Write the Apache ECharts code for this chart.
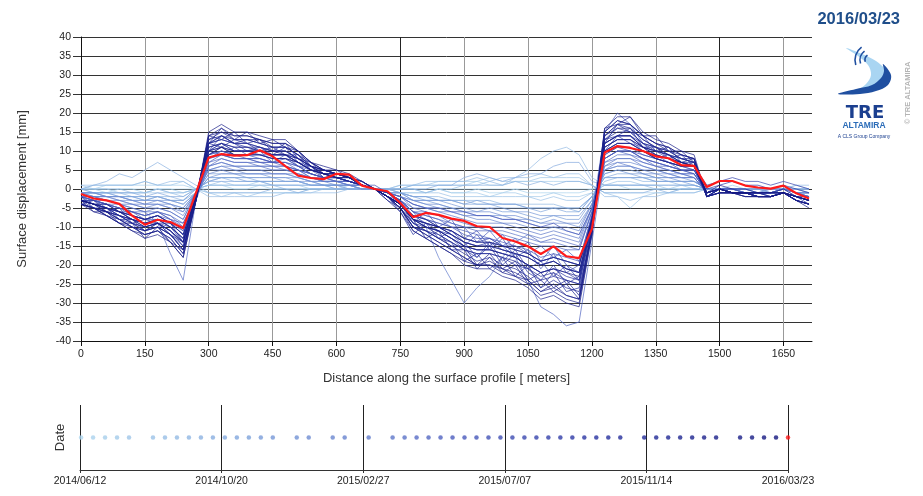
<!DOCTYPE html>
<html>
<head>
<meta charset="utf-8">
<title>Surface displacement profile</title>
<script src="https://cdn.jsdelivr.net/npm/echarts@6/dist/echarts.min.js"></script>
<style>
  html, body { margin: 0; padding: 0; background: #fff; }
  #chart { width: 923px; height: 496px; }
</style>
</head>
<body>
<div id="chart"></div>
<script>
// distance along the profile [m]
var distance = [0,30,60,90,120,150,180,210,240,270, 300,330,360,390,420,450,480,510,540,570,
  600,630,660,690,720,750,780,810,840,870, 900,930,960,990,1020,1050,1080,1110,1140,1170,
  1200,1230,1260,1290,1320,1350,1380,1410,1440, 1470,1500,1530,1560,1590,1620,1650,1680,1710];

// acquisition dates (one profile each)
var dates = ['2014/06/13','2014/06/24','2014/07/05','2014/07/16','2014/07/27','2014/08/18','2014/08/29',
  '2014/09/09','2014/09/20','2014/10/01','2014/10/12','2014/10/23','2014/11/03','2014/11/14','2014/11/25',
  '2014/12/06','2014/12/28','2015/01/08','2015/01/30','2015/02/10','2015/03/04','2015/03/26','2015/04/06',
  '2015/04/17','2015/04/28','2015/05/09','2015/05/20','2015/05/31','2015/06/11','2015/06/22','2015/07/03',
  '2015/07/14','2015/07/25','2015/08/05','2015/08/16','2015/08/27','2015/09/07','2015/09/18','2015/09/29',
  '2015/10/10','2015/10/21','2015/11/12','2015/11/23','2015/12/04','2015/12/15','2015/12/26','2016/01/06',
  '2016/01/17','2016/02/08','2016/02/19','2016/03/01','2016/03/12','2016/03/23'];

// displacement [mm] per date, same order as dates
var p00 = [0,0,0,0,0,0,0,0,0,0, 0,0,0,0,0,0,0,0,0,0, 0,0,0,0,0,0,0,0,0,0, 0,0,0,0,0,0,0,0,0,0, 0,0,0,0,0,0,0,0,0, 0,0,0,0,0,0,0,0,0];
var p01 = [0,0,-1,0,0,-1,0,0,-1,0, 1,1,0,0,1,0,0,0,0,0, 0,0,0,0,0,0,0,-1,0,-1, -1,0,-1,-1,0,-1,-1,-1,-1,-1, 0,1,1,0,0,0,0,0,0, 0,0,0,0,0,0,0,0,0];
var p02 = [0,0,1,1,1,1,1,1,1,0, -1,-1,-1,-1,-1,-1,-1,-1,0,0, 0,0,0,0,0,0,1,1,1,1, 1,2,1,1,2,2,2,2,2,2, 1,-1,-1,-1,-1,-1,-1,0,0, 0,0,0,0,0,0,0,0,0];
var p03 = [1,0,0,-1,-1,-1,0,-1,-1,0, 1,1,1,1,2,1,1,1,0,0, 0,1,0,0,0,-1,-1,-1,0,-1, -1,-1,-2,-1,-1,-2,-2,-1,-2,-2, -1,1,1,1,1,1,0,1,0, 0,0,1,0,0,0,0,0,-1];
var p04 = [0,1,1,1,1,2,1,1,2,0, -1,-2,-1,-2,-1,-1,-1,-1,-1,0, 0,0,0,0,0,1,1,1,2,2, 2,2,3,2,2,2,3,3,3,3, 1,-1,-2,-5,-2,-1,-1,-1,-1, 0,0,0,0,0,0,0,1,0];
var p05 = [0,-1,-1,-1,-1,-1,-1,-1,-2,0, 1,2,1,1,1,1,1,1,1,1, 0,0,0,0,0,-1,-1,-1,-1,-2, -2,-2,-2,-2,-2,-2,-3,-2,-3,-3, -1,1,2,2,1,1,1,1,1, 0,0,0,0,0,-1,0,0,-1];
var p06 = [1,1,1,1,1,2,1,2,2,0, -2,-2,-2,-2,-2,-2,-1,-1,-1,-1, -1,0,0,0,0,1,1,2,2,2, 2,3,2,3,3,3,4,3,4,4, 1,-2,-2,-3,-2,-2,-1,-1,-1, 0,0,0,0,0,0,0,1,1];
var p07 = [0,0,0,0,-1,-1,0,-1,-1,0, 1,1,1,1,1,1,0,0,0,0, 0,0,0,0,0,0,0,-1,0,0, 1,1,2,1,3,5,8,10,11,9, 3,1,1,1,1,0,0,0,0, 0,0,0,0,0,0,0,0,0];
var p08 = [-1,-1,-1,-1,-2,-2,-2,-2,-3,0, 2,3,2,2,2,2,2,2,1,1, 1,0,0,0,0,-1,-2,-2,-2,-3, -3,-3,-3,-4,-4,-4,-4,-4,-5,-5, -2,2,3,3,2,2,2,1,1, 0,0,0,0,0,0,0,-1,-1];
var p09 = [0,1,2,4,3,5,7,5,3,1, -1,-1,-1,-1,-1,0,0,-1,0,0, 0,0,0,0,0,0,1,1,1,1, 1,1,1,1,2,1,2,1,2,2, 1,-1,-1,-1,-1,0,-1,0,0, 0,0,0,0,0,0,0,0,0];
var p10 = [-1,-1,-1,-2,-2,-3,-2,-3,-3,-1, 3,3,3,3,2,2,2,2,1,1, 1,1,0,0,0,-1,-2,-2,-3,-3, -3,-4,-4,-4,-4,-5,-5,-5,-5,-6, -2,3,3,3,3,2,2,2,2, 0,0,0,0,0,0,0,0,-1];
var p11 = [0,-1,-1,-1,-1,-2,-1,-2,-2,0, 2,2,2,2,2,1,1,1,1,1, 0,0,0,0,0,0,0,0,1,1, 3,4,3,2,3,4,4,6,7,7, 2,1,1,1,1,1,1,1,1, 0,0,0,0,0,0,0,0,0];
var p12 = [-1,-1,-1,-2,-2,-3,-2,-3,-4,-1, 3,3,3,3,3,3,2,2,1,1, 1,1,0,0,-1,-1,-2,-3,-3,-3, -4,-4,-4,-5,-5,-5,-6,-5,-6,-6, -2,3,4,4,3,3,2,2,2, 0,0,0,0,0,-1,0,-1,-1];
var p13 = [-1,-1,-2,-2,-2,-2,-2,-3,-3,0, 2,3,3,2,2,2,2,2,1,1, 1,0,0,0,-1,-1,-2,-2,-3,-3, -4,-3,-4,-4,-4,-5,-5,-5,-5,-5, -2,3,3,3,3,2,2,2,1, 0,0,0,0,-1,0,0,-1,-1];
var p14 = [-1,-2,-2,-2,-3,-3,-3,-4,-5,-1, 4,4,4,4,4,3,3,3,2,1, 1,1,0,0,-1,-1,-3,-3,-4,-5, -5,-6,-5,-6,-6,-7,-8,-7,-8,-8, -3,4,5,5,4,3,3,3,2, 0,0,0,0,0,-1,0,-1,-1];
var p15 = [-1,-1,-2,-2,-3,-3,-3,-3,-4,-1, 3,4,4,3,3,3,3,2,2,1, 1,1,0,0,-1,-1,-3,-3,-3,-4, -5,-5,-5,-5,-6,-6,-7,-7,-7,-7, -3,4,5,4,4,3,3,2,2, 0,0,0,0,-1,0,0,-1,-1];
var p16 = [-1,-2,-2,-3,-3,-4,-4,-4,-6,-1, 5,5,5,4,4,4,4,3,2,2, 2,1,1,0,-1,-2,-3,-4,-5,-5, -6,-7,-7,-7,-8,-8,-9,-9,-9,-10, -4,5,6,6,5,4,4,3,3, -1,0,0,-1,-1,-1,0,-1,-1];
var p17 = [-1,-1,-2,-2,-3,-4,-3,-4,-5,-1, 4,5,4,4,4,4,4,3,2,2, 1,1,0,0,-1,-2,-3,-4,-4,-5, -6,-6,-6,-7,-7,-8,-9,-8,-9,-9, -4,5,6,6,4,4,3,3,3, -1,0,0,0,-1,-1,0,-1,-1];
var p18 = [-2,-2,-3,-3,-4,-5,-4,-5,-7,-1, 5,6,6,5,5,5,5,4,3,2, 2,1,1,0,-1,-2,-4,-5,-6,-6, -7,-8,-8,-9,-9,-10,-11,-10,-11,-12, -5,6,7,7,6,5,4,4,3, -1,0,0,-1,-1,-1,0,-1,-2];
var p19 = [-1,-2,-2,-3,-4,-4,-4,-5,-6,-1, 5,6,5,5,5,4,4,4,3,2, 2,1,1,0,-1,-2,-4,-5,-5,-6, -7,-7,-7,-8,-8,-9,-10,-10,-10,-11, -4,5,7,6,5,5,4,3,3, -1,0,0,-1,-1,-1,0,-1,-2];
var p20 = [-2,-2,-3,-4,-5,-6,-5,-6,-8,-1, 6,7,6,6,6,6,5,5,3,2, 2,2,1,0,-1,-3,-6,-10,-18,-24, -30,-26,-23,-18,-14,-12,-13,-12,-13,-14, -5,7,8,8,7,6,5,4,4, -1,0,0,-1,-1,-1,0,-1,-2];
var p21 = [-2,-2,-3,-4,-4,-5,-5,-6,-8,-1, 6,7,6,6,6,5,5,4,3,2, 2,1,1,0,-1,-2,-5,-5,-6,-7, -8,-9,-9,-9,-10,-11,-12,-11,-12,-13, -5,6,8,8,6,5,5,4,3, -1,0,0,-1,-1,-1,0,-1,-2];
var p22 = [-2,-3,-4,-4,-6,-6,-6,-7,-9,-2, 7,8,7,7,7,6,6,5,4,3, 2,2,1,0,-1,-3,-6,-6,-7,-9, -10,-10,-11,-11,-12,-13,-14,-14,-15,-16, -6,8,10,9,8,6,6,5,4, -1,0,0,-1,-1,-1,0,-2,-2];
var p23 = [-2,-3,-3,-4,-5,-6,-9,-17,-24,-3, 6,8,7,7,6,6,6,5,3,3, 2,2,1,0,-1,-3,-5,-6,-7,-8, -9,-10,-10,-10,-11,-12,-14,-13,-14,-15, -6,7,9,9,7,6,5,4,4, -1,0,-1,-1,-1,-1,0,-1,-2];
var p24 = [-2,-3,-4,-5,-6,-7,-6,-7,-10,-2, 8,9,8,8,7,7,7,5,4,3, 2,2,1,0,-1,-3,-6,-7,-8,-9, -10,-11,-11,-12,-13,-14,-15,-15,-16,-16, -6,8,10,10,8,7,6,5,5, -1,0,-1,-1,-1,-1,-1,-2,-2];
var p25 = [-2,-3,-4,-5,-6,-7,-6,-8,-10,-2, 8,9,8,8,8,7,7,6,4,3, 3,2,1,0,-1,-3,-6,-7,-8,-10, -11,-12,-13,-15,-18,-24,-31,-33,-36,-35, -14,8,10,10,8,7,6,5,5, -1,0,-1,-1,-1,-1,-1,-2,-3];
var p26 = [-3,-3,-4,-5,-7,-8,-7,-8,-11,-2, 9,10,9,9,8,7,7,6,4,3, 3,2,1,0,-1,-3,-6,-8,-9,-10, -10,-14,-11,-15,-13,-17,-15,-18,-16,-19, -7,9,11,11,9,8,7,6,5, -1,0,-1,-1,-1,-1,-1,-2,-3];
var p27 = [-2,-3,-4,-5,-6,-7,-6,-8,-9,-2, 7,9,8,8,7,7,6,5,4,3, 3,2,1,0,-1,-2,-4,-5,-5,-6, -6,-7,-7,-8,-8,-9,-10,-9,-11,-12, -5,8,10,10,8,7,6,5,4, -1,0,-1,-1,-1,-1,-1,-2,-2];
var p28 = [-3,-3,-4,-6,-7,-8,-7,-9,-12,-2, 9,10,9,9,9,8,8,6,5,3, 3,2,1,0,-2,-3,-7,-8,-9,-10, -12,-13,-13,-14,-15,-16,-18,-17,-18,-19, -7,15,20,17,12,9,7,6,5, -1,0,-1,-1,-1,-1,-1,-2,-3];
var p29 = [-3,-4,-5,-6,-7,-8,-8,-9,-12,-2, 10,9,11,9,10,7,9,6,6,3, 3,2,1,0,-2,-4,-7,-8,-10,-11, -13,-14,-14,-15,-16,-17,-19,-18,-19,-20, -8,10,12,12,10,8,7,6,6, -1,0,-1,-1,-1,-1,-1,-2,-3];
var p30 = [-2,-4,-4,-6,-6,-8,-7,-9,-11,-2, 8,10,9,8,8,7,8,6,4,3, 3,2,1,1,-1,-3,-9,-6,-10,-8, -13,-11,-15,-12,-16,-14,-19,-15,-20,-22, -7,9,11,10,9,8,7,5,5, -1,0,0,-1,-1,-2,-1,-2,-3];
var p31 = [-3,-4,-5,-6,-8,-9,-8,-10,-13,-2, 10,11,10,10,9,9,9,7,5,4, 3,2,1,0,-2,-4,-8,-9,-10,-12, -15,-12,-16,-13,-18,-16,-21,-17,-22,-20, -8,11,13,13,10,9,8,7,6, -1,0,-1,-1,-1,-2,-1,-2,-3];
var p32 = [-3,-4,-5,-6,-8,-9,-8,-10,-13,-2, 10,12,10,10,10,9,9,7,5,4, 3,3,1,0,-2,-4,-8,-9,-11,-12, -14,-15,-15,-16,-17,-18,-20,-19,-21,-22, -9,10,14,12,11,8,9,6,7, -1,0,-1,-1,-1,-1,-1,-2,-3];
var p33 = [-3,-3,-5,-6,-7,-8,-7,-9,-12,-2, 9,11,9,9,9,8,8,7,5,4, 3,2,1,0,-2,-4,-7,-9,-10,-11, -13,-14,-13,-15,-15,-17,-19,-18,-19,-20, -8,10,12,12,10,8,7,6,6, 1,2,3,2,2,1,2,1,0];
var p34 = [-3,-4,-5,-7,-8,-9,-9,-10,-14,-2, 11,12,11,11,10,9,9,8,5,4, 3,3,1,0,-2,-4,-8,-10,-11,-13, -16,-18,-14,-19,-16,-21,-19,-23,-20,-24, -9,12,14,14,11,10,8,7,6, -2,0,-1,-1,-2,-2,-1,-2,-3];
var p35 = [-3,-4,-5,-7,-8,-10,-9,-11,-14,-2, 10,14,12,10,11,9,11,7,6,3, 4,3,1,0,-2,-4,-8,-10,-11,-13, -15,-16,-16,-17,-18,-20,-22,-21,-22,-24, -9,12,14,14,11,10,9,7,6, -2,0,-1,-1,-2,-2,-1,-2,-3];
var p36 = [-4,-3,-6,-5,-9,-8,-9,-9,-14,-3, 10,12,10,10,10,9,9,7,5,4, 3,2,1,0,-2,-4,-8,-9,-10,-12, -14,-15,-14,-16,-17,-18,-20,-19,-21,-22, -8,11,13,13,11,9,8,7,6, 0,1,2,1,1,0,1,0,-1];
var p37 = [-3,-4,-6,-7,-9,-10,-9,-11,-15,-2, 12,13,12,11,11,10,10,8,6,4, 4,3,1,0,-2,-6,-12,-9,-13,-11, -14,-18,-15,-20,-17,-22,-24,-20,-25,-23, -9,13,14,16,11,11,8,9,6, -2,0,-1,-1,-2,-2,-1,-2,-4];
var p38 = [-3,-4,-5,-7,-9,-10,-9,-11,-14,-3, 12,11,13,12,10,11,9,9,5,5, 4,3,1,0,-2,-4,-8,-10,-11,-13, -15,-16,-16,-17,-18,-20,-22,-21,-23,-24, -9,12,14,14,12,10,9,7,7, -2,-1,-1,-1,-2,-2,-1,-2,-3];
var p39 = [-3,-5,-6,-7,-9,-11,-9,-12,-15,-3, 12,14,12,12,11,10,10,8,6,5, 4,3,1,0,-2,-5,-9,-11,-12,-14, -16,-17,-17,-18,-20,-21,-24,-23,-24,-25, -10,13,16,15,12,11,9,8,7, -2,0,-1,-1,-2,-2,-1,-3,-4];
var p40 = [-4,-5,-6,-8,-9,-11,-10,-12,-16,-3, 12,14,12,13,12,11,11,9,6,5, 4,3,1,0,-2,-5,-9,-11,-13,-14, -19,-17,-21,-18,-23,-20,-26,-22,-27,-26, -12,12,17,15,14,10,11,7,8, -2,0,-1,-1,-2,-2,-1,-3,-4];
var p41 = [-4,-5,-6,-8,-10,-11,-10,-12,-16,-3, 14,13,15,12,13,10,12,8,7,4, 4,3,1,0,-2,-5,-10,-11,-13,-15, -17,-19,-18,-20,-21,-23,-26,-24,-26,-27, -11,14,17,16,13,11,10,8,8, -2,0,-1,-1,-2,-2,-1,-3,-4];
var p42 = [-2,-5,-5,-8,-8,-11,-9,-12,-14,-2, 12,13,12,12,11,10,10,8,6,4, 4,3,2,0,-2,-4,-9,-10,-12,-14, -16,-17,-17,-18,-19,-21,-23,-22,-24,-25, -10,13,15,15,12,11,9,8,7, -2,-1,-1,-2,-2,-2,-1,-3,-4];
var p43 = [-4,-5,-7,-8,-10,-12,-11,-13,-17,-3, 13,15,13,13,13,11,11,9,7,5, 4,3,2,0,-1,-4,-8,-13,-11,-16, -16,-21,-18,-22,-20,-25,-24,-27,-25,-29, -11,14,17,17,14,12,10,9,8, -2,-1,-1,-1,-2,-2,-1,-3,-4];
var p44 = [-4,-5,-7,-9,-10,-12,-11,-13,-17,-3, 12,16,13,15,12,13,11,10,6,5, 4,3,2,0,-2,-5,-10,-12,-14,-16, -18,-20,-20,-21,-23,-24,-27,-26,-28,-29, -11,15,18,17,14,12,11,9,8, -2,0,-1,-1,-2,-2,-1,-3,-4];
var p45 = [-4,-5,-6,-8,-10,-11,-10,-12,-16,-2, 13,14,13,13,12,11,11,9,6,5, 4,3,1,0,-2,-5,-10,-11,-13,-15, -15,-20,-17,-21,-19,-24,-22,-26,-24,-28, -10,14,16,16,13,11,10,8,7, -1,1,0,0,-1,-1,0,-2,-3];
var p46 = [-4,-5,-7,-9,-11,-12,-11,-14,-18,-3, 14,16,14,14,13,12,12,10,7,5, 5,3,2,0,-2,-5,-11,-13,-15,-17, -19,-20,-20,-22,-23,-25,-28,-27,-29,-30, -12,16,17,19,14,14,10,10,7, -2,-1,-1,-2,-2,-2,-1,-3,-4];
var p47 = [-4,-6,-7,-9,-11,-13,-12,-14,-18,-3, 15,17,15,15,14,13,13,10,7,6, 5,4,2,0,-3,-6,-11,-13,-15,-17, -20,-21,-21,-23,-24,-26,-29,-28,-30,-31, -12,16,19,19,15,13,12,10,9, -2,-1,-1,-2,-2,-2,-1,-3,-5];
var p48 = [-3,-6,-6,-9,-9,-13,-10,-14,-16,-3, 14,15,14,14,13,12,12,10,7,5, 4,3,1,0,-3,-5,-10,-12,-14,-16, -18,-20,-19,-21,-22,-24,-27,-25,-28,-29, -11,15,18,17,14,12,11,9,8, -2,-1,-1,-1,-2,-2,-1,-3,-4];
var p49 = [-3,-4,-6,-7,-8,-10,-9,-11,-14,-2, 11,12,11,11,10,10,9,8,6,4, 4,3,1,0,-2,-4,-8,-10,-11,-13, -15,-16,-16,-17,-18,-20,-22,-21,-22,-23, -9,12,14,14,11,10,9,7,6, -1,0,-1,-1,-1,-2,-1,-2,-3];
var p50 = [-3,-4,-5,-6,-8,-9,-8,-10,-13,-2, 10,11,10,10,10,9,9,7,5,4, 3,3,1,0,-2,-4,-8,-9,-10,-12, -14,-15,-15,-16,-17,-18,-20,-19,-21,-22, -8,11,13,13,11,9,8,7,6, -1,0,-1,-1,-1,-1,-1,-2,-3];
var p51 = [-3,-4,-4,-6,-7,-8,-7,-9,-12,-2, 9,11,9,9,9,8,8,7,5,4, 3,2,1,0,-2,-4,-7,-8,-10,-11, -13,-14,-14,-15,-16,-17,-19,-18,-19,-20, -8,10,12,12,10,8,7,6,6, -1,0,-1,-1,-1,-1,-1,-2,-3];
// last date (drawn in red)
var p52 = [-1.3,-2.5,-3.0,-3.9,-7.0,-9.4,-8.1,-8.7,-10.3,-1.0, 8.3,9.2,8.8,8.9,10.2,8.6,6.0,3.5,2.9,2.6,
  4.0,3.8,0.9,0.0,-0.6,-3.7,-7.4,-6.3,-6.8,-7.8, -8.4,-9.8,-10.0,-12.9,-13.8,-15.1,-17.1,-15.1,-17.7,-18.2,
  -10.5,9.6,11.3,10.8,10.0,8.6,8.1,6.3,6.1, 0.5,2.1,2.1,0.9,0.4,0.1,0.9,-1.1,-2.5];

var profiles = [p00,p01,p02,p03,p04,p05,p06,p07,p08,p09,p10,p11,p12,p13,p14,p15,p16,p17,p18,p19,
  p20,p21,p22,p23,p24,p25,p26,p27,p28,p29,p30,p31,p32,p33,p34,p35,p36,p37,p38,p39,
  p40,p41,p42,p43,p44,p45,p46,p47,p48,p49,p50,p51,p52];

// tick labels
var distanceTicks = [0,150,300,450,600,750,900,1050,1200,1350,1500,1650];
var timeTicks = ['2014/06/12','2014/10/20','2015/02/27','2015/07/07','2015/11/14','2016/03/23'];

var FONT = 'Liberation Sans, Arial, sans-serif';

function dayNum(s) {
  var a = s.split('/');
  return Date.UTC(+a[0], +a[1] - 1, +a[2]) / 86400000;
}
var day0 = dayNum(timeTicks[0]);
var timeStep = dayNum(timeTicks[1]) - day0;
var timeMax = dayNum(timeTicks[timeTicks.length - 1]) - day0;

// light blue (early) -> navy (late)
var stops = ['#aed6ee', '#7ea3dc', '#4d5fbf', '#26309f', '#14177f'];
function hex(c) { return [parseInt(c.substr(1, 2), 16), parseInt(c.substr(3, 2), 16), parseInt(c.substr(5, 2), 16)]; }
function dateColor(i) {
  var t = i / (dates.length - 2);
  var s = t * (stops.length - 1);
  var k = Math.min(Math.floor(s), stops.length - 2);
  var f = s - k, a = hex(stops[k]), b = hex(stops[k + 1]);
  return 'rgb(' + [0, 1, 2].map(function (j) { return Math.round(a[j] + (b[j] - a[j]) * f); }).join(',') + ')';
}

var series = [];
profiles.forEach(function (vals, i) {
  var last = i === profiles.length - 1;
  series.push({
    name: dates[i],
    type: 'line',
    xAxisIndex: 0,
    yAxisIndex: 0,
    showSymbol: false,
    symbol: 'none',
    silent: true,
    z: last ? 4 : 2,
    lineStyle: {
      width: last ? 2.2 : 1,
      color: last ? '#ff1a1a' : dateColor(i),
      opacity: last ? 1 : 0.7
    },
    data: vals.map(function (v, k) { return [distance[k], v]; })
  });
});

series.push({
  type: 'scatter',
  xAxisIndex: 1,
  yAxisIndex: 1,
  symbolSize: 4.5,
  silent: true,
  z: 3,
  data: dates.map(function (d, i) {
    return {
      value: [dayNum(d) - day0, 0.5],
      itemStyle: { color: i === dates.length - 1 ? '#ff1a1a' : dateColor(i) }
    };
  })
});

var option = {
  animation: false,
  backgroundColor: '#fff',
  textStyle: { fontFamily: FONT },
  grid: [
    { left: 81, top: 37, width: 731, height: 304 },
    { left: 80, top: 405, width: 708, height: 65 }
  ],
  xAxis: [
    {
      gridIndex: 0,
      type: 'value',
      min: 0,
      max: 1717,
      interval: 30,
      name: 'Distance along the surface profile [ meters]',
      nameLocation: 'middle',
      nameGap: 31,
      nameTextStyle: { fontSize: 13, color: '#333', fontFamily: FONT },
      axisLine: { show: true, onZero: false, lineStyle: { color: '#111', width: 1 } },
      axisTick: { show: true, customValues: distanceTicks, length: 5, lineStyle: { color: '#111' } },
      axisLabel: {
        customValues: distanceTicks,
        fontSize: 10.5, color: '#222', margin: 8, fontFamily: FONT,
        formatter: function (v) { return v % 150 === 0 ? String(v) : ''; }
      },
      splitLine: {
        show: true,
        lineStyle: { color: ['#222', '#999', '#999', '#999', '#999'], width: 1 }
      }
    },
    {
      gridIndex: 1,
      type: 'value',
      min: 0,
      max: timeMax,
      interval: timeStep,
      axisLine: { show: true, lineStyle: { color: '#333' } },
      axisTick: { show: true, length: 3, lineStyle: { color: '#333' } },
      axisLabel: {
        fontSize: 10.5, color: '#222', margin: 6, fontFamily: FONT,
        formatter: function (v) { return timeTicks[Math.round(v / timeStep)] || ''; }
      },
      splitLine: { show: true, lineStyle: { color: '#222', width: 1 } }
    }
  ],
  yAxis: [
    {
      gridIndex: 0,
      type: 'value',
      min: -40,
      max: 40,
      interval: 5,
      name: 'Surface displacement [mm]',
      nameLocation: 'middle',
      nameGap: 52,
      nameTextStyle: { fontSize: 13, color: '#333', fontFamily: FONT },
      axisLine: { show: true, onZero: false, lineStyle: { color: '#111' } },
      axisTick: { show: true, length: 8, lineStyle: { color: '#333' } },
      axisLabel: { fontSize: 10.5, color: '#222', margin: 10, fontFamily: FONT },
      splitLine: { show: true, lineStyle: { color: '#333', width: 1 } }
    },
    {
      gridIndex: 1,
      type: 'value',
      min: 0,
      max: 1,
      name: 'Date',
      nameLocation: 'middle',
      nameGap: 13,
      nameTextStyle: { fontSize: 13, color: '#333', fontFamily: FONT },
      axisLine: { show: false },
      axisTick: { show: false },
      axisLabel: { show: false },
      splitLine: { show: false }
    }
  ],
  graphic: [
    { type: 'text', x: 900, y: 19, silent: true,
      style: { text: '2016/03/23', align: 'right', verticalAlign: 'middle', fill: '#1f4e8a',
        font: 'bold 16.5px ' + FONT } },
    // logo swoosh
    { type: 'polygon', silent: true,
      shape: { smooth: 0.35, points: [[846,48],[862,54],[876,61],[886,70],[890,78],[885,85],[872,90],[856,92],[866,84],[871,75],[868,65],[858,56]] },
      style: { fill: '#a9d5f2' } },
    { type: 'polygon', silent: true,
      shape: { smooth: 0.35, points: [[883,64],[891,75],[888,85],[876,91],[860,94],[838,94],[856,89],[872,85],[881,78],[884,71]] },
      style: { fill: '#1f4fa0' } },
    { type: 'arc', silent: true, shape: { cx: 871, cy: 60, r: 6, startAngle: Math.PI * 0.9, endAngle: Math.PI * 1.3 },
      style: { stroke: '#1f4fa0', lineWidth: 1.6, fill: null } },
    { type: 'arc', silent: true, shape: { cx: 871, cy: 60, r: 11, startAngle: Math.PI * 0.9, endAngle: Math.PI * 1.3 },
      style: { stroke: '#1f4fa0', lineWidth: 1.6, fill: null } },
    { type: 'arc', silent: true, shape: { cx: 871, cy: 60, r: 16, startAngle: Math.PI * 0.9, endAngle: Math.PI * 1.3 },
      style: { stroke: '#1f4fa0', lineWidth: 1.6, fill: null } },
    { type: 'text', x: 865, y: 113, silent: true,
      style: { text: 'TRE', align: 'center', verticalAlign: 'middle', fill: '#1b3f8f',
        font: 'bold 18px DejaVu Sans, sans-serif' } },
    { type: 'text', x: 864, y: 126, silent: true,
      style: { text: 'ALTAMIRA', align: 'center', verticalAlign: 'middle', fill: '#2b6cb8',
        font: 'bold 8.5px ' + FONT } },
    { type: 'text', x: 864, y: 136.5, silent: true,
      style: { text: 'A CLS Group Company', align: 'center', verticalAlign: 'middle', fill: '#1b3f8f',
        font: '5px ' + FONT } },
    { type: 'text', x: 908, y: 93, rotation: Math.PI / 2, silent: true,
      style: { text: '\u00a9 TRE ALTAMIRA', align: 'center', verticalAlign: 'middle', fill: '#b5b5b5',
        font: 'bold 7.5px ' + FONT } }
  ],
  series: series
};

var chart = echarts.init(document.getElementById('chart'), null, { renderer: 'canvas' });
chart.setOption(option);
</script>
</body>
</html>
